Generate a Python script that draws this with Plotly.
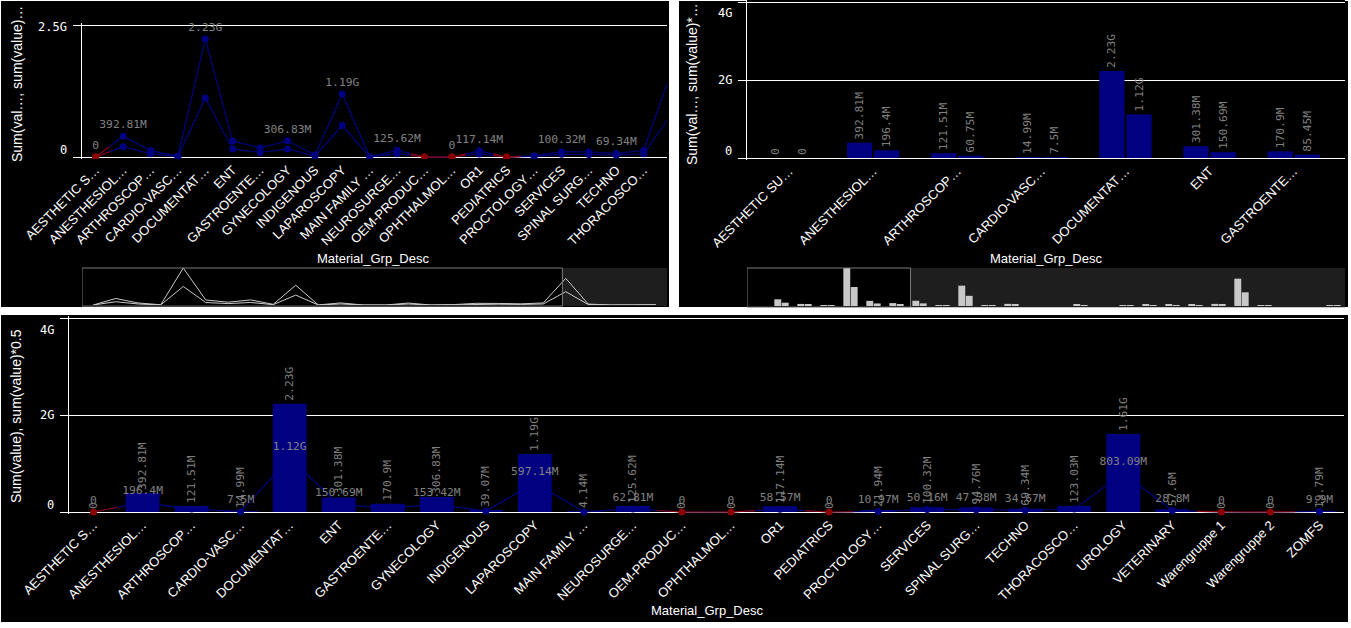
import plotly.graph_objects as go

# ---------------- data ----------------
categories = ["AESTHETIC S…", "ANESTHESIOL…", "ARTHROSCOP…", "CARDIO-VASC…", "DOCUMENTAT…",
              "ENT", "GASTROENTE…", "GYNECOLOGY", "INDIGENOUS", "LAPAROSCOPY", "MAIN FAMILY …",
              "NEUROSURGE…", "OEM-PRODUC…", "OPHTHALMOL…", "OR1", "PEDIATRICS", "PROCTOLOGY…",
              "SERVICES", "SPINAL SURG…", "TECHNO", "THORACOSCO…", "UROLOGY", "VETERINARY",
              "Warengruppe 1", "Warengruppe 2", "ZOMFS"]
categories_top_right = ["AESTHETIC SU…"] + categories[1:]

# sum(value), in millions
sum_value_m = [0, 392.806, 121.507, 14.993, 2232.5, 301.38, 170.9, 306.832, 39.07, 1194.28, 4.14,
               125.62, 0, 0, 117.14, 0, 21.94, 100.32, 94.76, 69.34, 123.03, 1606.18, 57.6,
               0, 0, 19.792]
# sum(value)*0.5, in millions
half_value_m = [0, 196.403, 60.7535, 7.4965, 1116.25, 150.69, 85.45, 153.416, 19.535, 597.14, 2.07,
                62.81, 0, 0, 58.57, 0, 10.97, 50.16, 47.38, 34.67, 61.515, 803.09, 28.8,
                0, 0, 9.896]

# which point labels are visible in the source
top_left_label_idx = [0, 1, 4, 7, 9, 11, 13, 14, 17, 19]
bottom_line_label_idx = [0, 1, 3, 4, 5, 7, 9, 11, 12, 13, 14, 15, 16, 17, 18, 19, 21, 22, 23, 24, 25]

ticks_top_left = [0, 2.5e9]
ticks_top_left_text = ["0", "2.5G"]
ticks_bar = [0, 2e9, 4e9]
ticks_bar_text = ["0", "2G", "4G"]

y_title_top_left = "Sum(val…, sum(value)…"
y_title_top_right = "Sum(val…, sum(value)*…"
y_title_bottom = "Sum(value), sum(value)*0.5"
x_title = "Material_Grp_Desc"

sum_value = [v * 1e6 for v in sum_value_m]
half_value = [v * 1e6 for v in half_value_m]
idx = list(range(len(categories)))

# ---------------- style ----------------
W, H = 1351, 628
NAVY = "#000080"
RED = "#8b0000"
LABEL_GRAY = "#808080"
MINI_GRAY = "#c8c8c8"
FILL_GRAY = "#1e1e1e"
FRAME_GRAY = "#7a7a7a"
MONO = "DejaVu Sans Mono"
SANS = "Liberation Sans, Arial, sans-serif"

tl_view = [-0.5, 20.85]
tr_view = [-0.5, 6.61]
full_view = [-0.5, 25.5]


def px_x(p):
    return p / W


def px_y(p):
    return 1 - p / H


def yaxis_geom(p0, pT, T, pad_px):
    """domain/range so that 0 sits at pixel p0 and T at pixel pT, padded by pad_px on both ends"""
    s = (p0 - pT) / T
    lo, hi = -pad_px / s, T + pad_px / s
    return [px_y(p0 + pad_px), px_y(pT - pad_px)], [lo, hi]


def fmt(v):
    if v == 0:
        return "0"
    if v >= 1e9:
        s, u = f"{v / 1e9:.2f}", "G"
    else:
        s, u = f"{v / 1e6:.2f}", "M"
    s = s.rstrip("0").rstrip(".")
    return s + u


def red_segments(vals):
    xs, ys = [], []
    n = len(vals)
    for i, v in enumerate(vals):
        if v == 0:
            lx, ly = (i - 0.5, (vals[i - 1] + v) / 2) if i > 0 else (i, v)
            rx, ry = (i + 0.5, (vals[i + 1] + v) / 2) if i < n - 1 else (i, v)
            xs += [lx, i, rx, None]
            ys += [ly, v, ry, None]
    return xs, ys


label_font = dict(family=MONO, size=11.3, color=LABEL_GRAY)

fig = go.Figure()

# ---------- top-left line chart ----------
for vals in (sum_value, half_value):
    fig.add_trace(go.Scatter(x=idx, y=vals, mode="lines", line=dict(color=NAVY, width=1.2),
                             xaxis="x", yaxis="y", hoverinfo="skip"))
    rx, ry = red_segments(vals)
    fig.add_trace(go.Scatter(x=rx, y=ry, mode="lines", line=dict(color=RED, width=1.2),
                             xaxis="x", yaxis="y", hoverinfo="skip"))
for vals in (sum_value, half_value):
    fig.add_trace(go.Scatter(x=idx, y=vals, mode="markers",
                             marker=dict(size=7, color=[RED if v == 0 else NAVY for v in vals]),
                             xaxis="x", yaxis="y", cliponaxis=True))
fig.add_trace(go.Scatter(x=idx, y=sum_value, mode="markers+text",
                         text=[fmt(v) if i in top_left_label_idx else "" for i, v in enumerate(sum_value)],
                         textposition="top center", textfont=label_font,
                         marker=dict(size=7, opacity=0), xaxis="x", yaxis="y", cliponaxis=False))

# top-left mini navigator
for vals in (sum_value, half_value):
    fig.add_trace(go.Scatter(x=idx, y=vals, mode="lines", line=dict(color=MINI_GRAY, width=1),
                             xaxis="x2", yaxis="y2", hoverinfo="skip"))

# ---------- top-right bar chart (scrolled view) ----------
for vals in (sum_value, half_value):
    fig.add_trace(go.Bar(x=idx, y=vals, marker=dict(color=NAVY, line=dict(width=0)),
                         text=[fmt(v) if i <= tr_view[1] else "" for i, v in enumerate(vals)],
                         textposition="outside", textangle=-90,
                         textfont=label_font, constraintext="none",
                         xaxis="x3", yaxis="y3", cliponaxis=True))
for vals in (sum_value, half_value):
    fig.add_trace(go.Bar(x=idx, y=vals, marker=dict(color=MINI_GRAY, line=dict(width=0)),
                         xaxis="x4", yaxis="y4"))

# ---------- bottom combo chart ----------
fig.add_trace(go.Bar(x=idx, y=sum_value, width=0.69, marker=dict(color=NAVY, line=dict(width=0)),
                     text=[fmt(v) for v in sum_value], textposition="outside", textangle=-90,
                     textfont=label_font, constraintext="none", xaxis="x5", yaxis="y5"))
fig.add_trace(go.Scatter(x=idx, y=half_value, mode="lines", line=dict(color=NAVY, width=1.2),
                         xaxis="x5", yaxis="y5", hoverinfo="skip"))
rx, ry = red_segments(half_value)
fig.add_trace(go.Scatter(x=rx, y=ry, mode="lines", line=dict(color=RED, width=1.2),
                         xaxis="x5", yaxis="y5", hoverinfo="skip"))
fig.add_trace(go.Scatter(x=idx, y=half_value, mode="markers+text",
                         marker=dict(size=7, color=[RED if v == 0 else NAVY for v in half_value]),
                         text=[fmt(v) if i in bottom_line_label_idx else "" for i, v in enumerate(half_value)],
                         textposition="top center", textfont=label_font,
                         xaxis="x5", yaxis="y5", cliponaxis=False))

# ---------------- layout ----------------
xcommon = dict(showgrid=False, zeroline=False, showline=False, ticks="", tickangle=-45,
               tickfont=dict(family=SANS, size=13, color="white"), tickmode="array", tickvals=idx,
               fixedrange=True, automargin=False)
ycommon = dict(showgrid=True, gridcolor="white", gridwidth=1, zeroline=False, showline=True,
               linecolor="white", linewidth=1, ticks="outside", ticklen=8, tickcolor="white",
               tickwidth=1, showticklabels=False, tickmode="array", fixedrange=True, automargin=False)
hidden = dict(visible=False, fixedrange=True, automargin=False)

dom1, rng1 = yaxis_geom(157, 25, 2.5e9, 2)
dom3, rng3 = yaxis_geom(158, 2, 4e9, 2)
dom5, rng5 = yaxis_geom(512, 318, 4e9, 2)

layout = dict(
    width=W, height=H, margin=dict(l=0, r=0, t=0, b=0, autoexpand=False),
    paper_bgcolor="white", plot_bgcolor="black", showlegend=False,
    barmode="group", bargap=0.355, bargroupgap=0.07,
    xaxis=dict(xcommon, domain=[px_x(82), px_x(667)], range=tl_view, ticktext=categories, anchor="y"),
    yaxis=dict(ycommon, domain=dom1, range=rng1, tickvals=ticks_top_left, anchor="x"),
    xaxis2=dict(hidden, domain=[px_x(82), px_x(667)], range=full_view, anchor="y2"),
    yaxis2=dict(hidden, domain=[px_y(305), px_y(268)], range=[0, 2.2325e9], anchor="x2"),
    xaxis3=dict(xcommon, domain=[px_x(747), px_x(1345)], range=tr_view, ticktext=categories_top_right,
                anchor="y3"),
    yaxis3=dict(ycommon, domain=dom3, range=rng3, tickvals=ticks_bar, anchor="x3"),
    xaxis4=dict(hidden, domain=[px_x(747), px_x(1345)], range=full_view, anchor="y4"),
    yaxis4=dict(hidden, domain=[px_y(306), px_y(268)], range=[0, 2.2325e9], anchor="x4"),
    xaxis5=dict(xcommon, domain=[px_x(69), px_x(1344)], range=full_view, ticktext=categories, anchor="y5"),
    yaxis5=dict(ycommon, domain=dom5, range=rng5, tickvals=ticks_bar, anchor="x5"),
)

shapes = []
# dark panels
for (x0, y0, x1, y1) in [(1, 1, 669, 307), (679, 1, 1348, 307), (1, 315, 1348, 622)]:
    shapes.append(dict(type="rect", xref="paper", yref="paper", x0=px_x(x0), x1=px_x(x1),
                       y0=px_y(y1), y1=px_y(y0), fillcolor="black", line=dict(width=0), layer="below"))
# navigators: unselected area + selection frame
for xa, ya, view in (("x2", "y2", tl_view), ("x4", "y4", tr_view)):
    shapes.append(dict(type="rect", xref=xa, yref=ya + " domain", x0=view[1], x1=full_view[1],
                       y0=-0.03, y1=1.0, fillcolor=FILL_GRAY, line=dict(width=0), layer="below"))
    shapes.append(dict(type="rect", xref=xa, yref=ya + " domain", x0=view[0], x1=view[1],
                       y0=-0.03, y1=1.0, fillcolor="rgba(0,0,0,0)",
                       line=dict(color=FRAME_GRAY, width=1), layer="above"))
layout["shapes"] = shapes

ann = []
tick_font = dict(family=MONO, size=12, color="white")
for vals, texts, yref, axis_px, shifts in (
        (ticks_top_left, ticks_top_left_text, "y", 82, [7.5, -2]),
        (ticks_bar, ticks_bar_text, "y3", 747, [7, 0, -11]),
        (ticks_bar, ticks_bar_text, "y5", 69, [7, 0, -12])):
    for v, t, sh in zip(vals, texts, shifts):
        ann.append(dict(xref="paper", yref=yref, x=px_x(axis_px - 13), y=v, text=t, showarrow=False,
                        xanchor="right", yanchor="middle", yshift=sh, font=tick_font))
title_font = dict(family=SANS, size=14, color="white")
for t, xc, yc in ((y_title_top_left, 17, 84), (y_title_top_right, 692, 84), (y_title_bottom, 16, 416)):
    ann.append(dict(xref="paper", yref="paper", x=px_x(xc), y=px_y(yc), text=t, textangle=-90,
                    showarrow=False, xanchor="center", yanchor="middle", font=title_font))
for xc, yc in ((373, 258), (1046, 258), (707, 610)):
    ann.append(dict(xref="paper", yref="paper", x=px_x(xc), y=px_y(yc), text=x_title,
                    showarrow=False, xanchor="center", yanchor="middle",
                    font=dict(family=SANS, size=13, color="white")))
layout["annotations"] = ann

fig.update_layout(**layout)
fig.write_html("out.html", config={"displayModeBar": False},
               post_script="document.body.style.margin='0';document.body.style.overflow='hidden';")
